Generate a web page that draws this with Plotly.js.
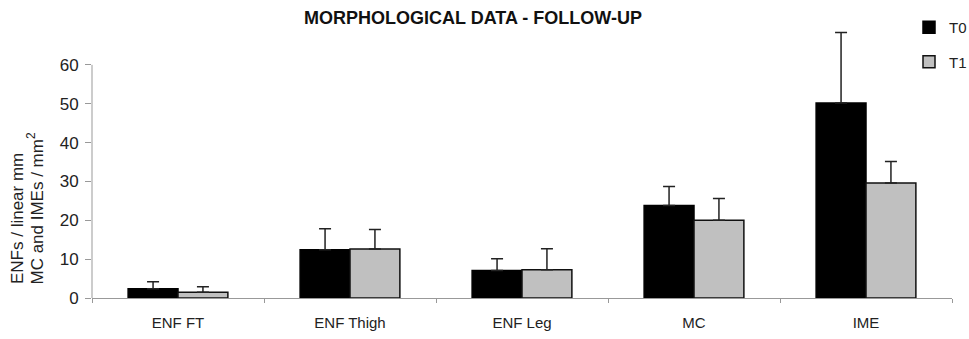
<!DOCTYPE html>
<html>
<head>
<meta charset="utf-8">
<script src="https://cdn.plot.ly/plotly-3.0.1.min.js"></script>
<style>html,body{margin:0;padding:0;background:#fff;}#chart{width:969px;height:339px;}</style>
</head>
<body>
<div id="chart"></div>
<script>
// Data
const categories = ["ENF FT", "ENF Thigh", "ENF Leg", "MC", "IME"];
const t0Values = [2.4, 12.4, 7.1, 23.8, 50.2];
const t0Errors = [1.8, 5.4, 3.0, 4.9, 18.1];
const t1Values = [1.5, 12.6, 7.3, 20.0, 29.6];
const t1Errors = [1.4, 5.0, 5.4, 5.6, 5.5];
const yTicks = [0, 10, 20, 30, 40, 50, 60];
const yTitleLines = ["ENFs / linear mm", "MC and IMEs / mm<sup>2</sup>"];

const fam = "Liberation Sans, Arial, sans-serif";
const font = {family: fam, size: 15, color: "#222"};

const traces = [
  {
    type: "bar", name: "T0", x: categories, y: t0Values, legendgroup: "a",
    marker: {color: "#000000", line: {color: "#000000", width: 1.5}},
    error_y: {type: "data", array: t0Errors, arrayminus: t0Errors.map(() => 0), symmetric: false,
              color: "#222", thickness: 1.5, width: 6}
  },
  {
    type: "bar", name: "T1", x: categories, y: t1Values, legendgroup: "b",
    marker: {color: "#c0c0c0", line: {color: "#111111", width: 1.5}},
    error_y: {type: "data", array: t1Errors, arrayminus: t1Errors.map(() => 0), symmetric: false,
              color: "#222", thickness: 1.5, width: 6}
  }
];

const layout = {
  width: 969, height: 339,
  margin: {l: 92, r: 17, t: 26, b: 40.5, pad: 0, autoexpand: false},
  paper_bgcolor: "#fff", plot_bgcolor: "#fff",
  font: font,
  showlegend: true,
  barmode: "group",
  bargap: 0.42, bargroupgap: 0,
  title: {text: "<b>MORPHOLOGICAL DATA - FOLLOW-UP</b>", font: {family: fam, size: 18, color: "#111"},
          x: 473/969, xanchor: "center", y: 1 - 18/339, yanchor: "middle", xref: "container", yref: "container"},
  legend: {x: (909 - 92) / 860, y: 1.055, xanchor: "left", yanchor: "top", bgcolor: "rgba(0,0,0,0)",
           font: {family: fam, size: 15, color: "#222"},
           traceorder: "grouped", tracegroupgap: 12, itemwidth: 30},
  xaxis: {
    type: "category", range: [-0.5, 4.5], showgrid: false, zeroline: false,
    showline: true, linecolor: "#999", linewidth: 1,
    ticks: "outside", tickson: "boundaries", ticklen: 4, tickcolor: "#999",
    ticklabelstandoff: 11,
    tickfont: font, fixedrange: true
  },
  yaxis: {
    range: [0, 70], tickvals: yTicks, ticktext: yTicks.map(String),
    showgrid: false, zeroline: false, showline: false,
    ticks: "outside", ticklen: 6, tickcolor: "#999", ticklabelstandoff: 3,
    tickfont: {family: fam, size: 17, color: "#222"}, fixedrange: true
  },
  shapes: [
    {type: "line", xref: "paper", yref: "y", x0: 0, x1: 0, y0: 0, y1: yTicks[yTicks.length - 1],
     line: {color: "#999", width: 1}}
  ],
  annotations: yTitleLines.map((t, i) => ({
    text: t, textangle: -90,
    xref: "paper", yref: "paper", x: (17 + 18 * i - 92) / 860, y: (298.5 - 287) / 272.5,
    xanchor: "center", yanchor: "bottom", showarrow: false,
    font: {family: fam, size: 17, color: "#222"}
  }))
};

Plotly.newPlot("chart", traces, layout, {displayModeBar: false, staticPlot: true});
</script>
</body>
</html>
